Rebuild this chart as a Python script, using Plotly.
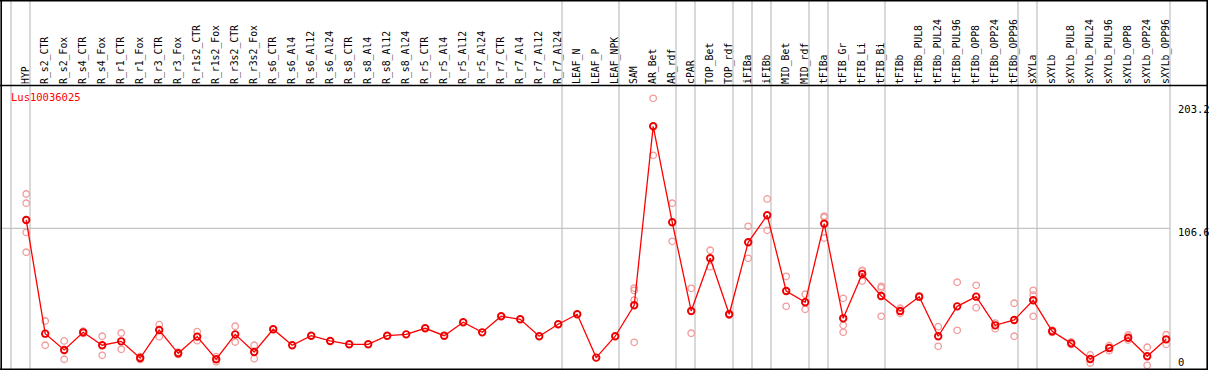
import plotly.graph_objects as go

# ---------------- data ----------------
gene = "Lus10036025"

categories = [
    "HYP", "R_s2_CTR", "R_s2_Fox", "R_s4_CTR", "R_s4_Fox", "R_r1_CTR", "R_r1_Fox",
    "R_r3_CTR", "R_r3_Fox", "R_r1s2_CTR", "R_r1s2_Fox", "R_r3s2_CTR", "R_r3s2_Fox",
    "R_s6_CTR", "R_s6_Al4", "R_s6_Al12", "R_s6_Al24", "R_s8_CTR", "R_s8_Al4",
    "R_s8_Al12", "R_s8_Al24", "R_r5_CTR", "R_r5_Al4", "R_r5_Al12", "R_r5_Al24",
    "R_r7_CTR", "R_r7_Al4", "R_r7_Al12", "R_r7_Al24", "LEAF_N", "LEAF_P", "LEAF_NPK",
    "SAM", "AR_Bet", "AR_rdf", "cPAR", "TOP_Bet", "TOP_rdf", "iFIBa", "iFIBb",
    "MID_Bet", "MID_rdf", "tFIBa", "tFIB_Gr", "tFIB_Li", "tFIB_Bi", "tFIBb",
    "tFIBb_PUL8", "tFIBb_PUL24", "tFIBb_PUL96", "tFIBb_OPP8", "tFIBb_OPP24",
    "tFIBb_OPP96", "sXYLa", "sXYLb", "sXYLb_PUL8", "sXYLb_PUL24", "sXYLb_PUL96",
    "sXYLb_OPP8", "sXYLb_OPP24", "sXYLb_OPP96",
]

means = [
    112.8, 28.3, 16.2, 29.3, 19.7, 22.6, 10.2, 31.0, 13.7, 26.1, 9.3, 27.8, 14.7,
    31.6, 19.7, 26.8, 22.9, 20.4, 20.4, 26.8, 27.8, 32.3, 26.8, 36.8, 29.3,
    41.2, 39.0, 26.4, 35.3, 42.7, 10.5, 26.4,
    49.4, 182.4, 111.1, 45.2, 84.3, 42.7, 96.2, 116.3, 60.0, 51.6, 110.0, 39.7,
    72.6, 56.3, 45.2, 55.8, 26.4, 48.6, 55.8, 34.5, 38.5,
    53.1, 30.1, 21.1, 9.5, 17.7, 25.3, 11.5, 24.1,
]

replicates = [
    [132.1, 125.2, 103.6, 88.8], [37.7, 19.7], [22.9, 9.3], [28.5, 30.1],
    [26.4, 12.2], [28.8, 16.7], [11.2, 9.2], [35.0, 26.1], [14.5, 12.9],
    [29.8, 23.1], [11.2, 7.4], [33.8, 22.1], [19.7, 9.7],
    [], [], [], [], [], [], [], [], [], [], [], [], [], [], [], [], [], [], [],
    [62.2, 60.4, 53.3, 21.9], [203.2, 160.8], [125.2, 96.9], [62.0, 28.6],
    [90.3, 78.1], [43.3, 42.1], [108.1, 84.3], [128.4, 105.1], [70.9, 48.6],
    [57.6, 46.4], [115.7, 114.8, 99.4], [54.6, 34.5, 29.3], [75.4, 74.9, 67.4],
    [63.5, 62.3, 41.2], [47.2, 43.4], [56.4, 55.2], [33.5, 18.9], [66.5, 30.8],
    [64.2, 47.6], [36.2, 32.0], [50.9, 26.4],
    [60.5, 57.0, 41.2], [31.0, 29.2], [22.1, 20.2], [12.5, 6.5], [19.4, 15.7],
    [27.3, 23.6], [18.2, 4.8], [27.5, 20.4],
]

# group separators (slot boundaries, counted in categories)
separators = [0, 1, 29, 32, 35, 36, 38, 39, 40, 42, 43, 46, 53, 54, 61]

y_labels = ["203.2", "106.6", "0"]
y_grid_value = 106.6

# ---------------- layout geometry ----------------
W, H = 1209, 370
T, B = 86, 1
SLOT = 19.0
FIRST_X = 26.2          # pixel x of first category
SEP_OFFSET = 0.8        # separator sits 0.8 slot left of a category centre
Y_RANGE = [2.05, 212.34]

plot_h = H - T - B


def paper_y(pix):
    return (H - B - pix) / plot_h


def paper_x(pix):
    return pix / W


x_idx = list(range(len(categories)))
rep_x, rep_y = [], []
for i, reps in enumerate(replicates):
    for v in reps:
        rep_x.append(i)
        rep_y.append(v)

mono = "DejaVu Sans Mono"

fig = go.Figure()
fig.add_trace(go.Scatter(
    x=rep_x, y=rep_y, mode="markers",
    marker=dict(symbol="circle-open", size=6.5, color="#f19a9a", line=dict(width=1.3)),
    hoverinfo="skip", showlegend=False,
))
fig.add_trace(go.Scatter(
    x=x_idx, y=means, mode="lines+markers",
    line=dict(color="#ff0000", width=1.3),
    marker=dict(symbol="circle-open", size=6.5, color="#ee0000", line=dict(width=1.9)),
    showlegend=False,
))

shapes = []
grey = "#c4c4c4"
for k in separators:
    shapes.append(dict(type="line", xref="x", yref="paper",
                       x0=k - SEP_OFFSET, x1=k - SEP_OFFSET,
                       y0=paper_y(H), y1=paper_y(0),
                       line=dict(color=grey, width=1.3), layer="below"))
x_min = -FIRST_X / SLOT
shapes.append(dict(type="line", xref="x", yref="y",
                   x0=x_min, x1=separators[-1] - SEP_OFFSET,
                   y0=y_grid_value, y1=y_grid_value,
                   line=dict(color=grey, width=1.3), layer="below"))
# black frame and header line
black = "#000000"
shapes += [
    dict(type="line", xref="paper", yref="paper", x0=paper_x(0), x1=paper_x(1207.5),
         y0=paper_y(0.8), y1=paper_y(0.8), line=dict(color=black, width=1.6)),
    dict(type="line", xref="paper", yref="paper", x0=paper_x(0), x1=paper_x(1207.5),
         y0=paper_y(85.5), y1=paper_y(85.5), line=dict(color=black, width=1.6)),
    dict(type="line", xref="paper", yref="paper", x0=paper_x(0), x1=paper_x(1207.5),
         y0=paper_y(369.3), y1=paper_y(369.3), line=dict(color=black, width=1.6)),
    dict(type="line", xref="paper", yref="paper", x0=paper_x(1.2), x1=paper_x(1.2),
         y0=paper_y(0), y1=paper_y(370), line=dict(color=black, width=1.6)),
    dict(type="line", xref="paper", yref="paper", x0=paper_x(1207.2), x1=paper_x(1207.2),
         y0=paper_y(0), y1=paper_y(370), line=dict(color=black, width=1.6)),
]

annotations = [
    dict(text=gene, xref="paper", yref="paper", x=paper_x(8.5), y=paper_y(96.8),
         xanchor="left", yanchor="middle", showarrow=False,
         font=dict(family=mono, size=10.5, color="#ff0000")),
]
for txt, pix_y in zip(y_labels, [109.2, 231.7, 362.0]):
    annotations.append(dict(text=txt, xref="paper", yref="paper",
                            x=paper_x(1175.5), y=paper_y(pix_y),
                            xanchor="left", yanchor="middle", showarrow=False,
                            font=dict(family=mono, size=10.5, color="#000000")))

fig.update_layout(
    width=W, height=H,
    margin=dict(l=0, r=0, t=T, b=B, pad=0),
    paper_bgcolor="white", plot_bgcolor="white",
    shapes=shapes, annotations=annotations,
    xaxis=dict(
        range=[x_min, (W - FIRST_X) / SLOT],
        side="top", tickmode="array", tickvals=x_idx, ticktext=categories,
        tickangle=-90, ticks="", showgrid=False, zeroline=False, showline=False,
        tickfont=dict(family=mono, size=9.8, color="#000000"),
        ticklabelstandoff=1,
    ),
    yaxis=dict(range=Y_RANGE, showgrid=False, zeroline=False, showline=False,
               showticklabels=False, ticks=""),
)

fig.write_html(
    "out.html",
    config={"displayModeBar": False},
    post_script="document.body.style.margin='0';document.body.style.padding='0';"
                "document.body.style.overflow='hidden';",
)
